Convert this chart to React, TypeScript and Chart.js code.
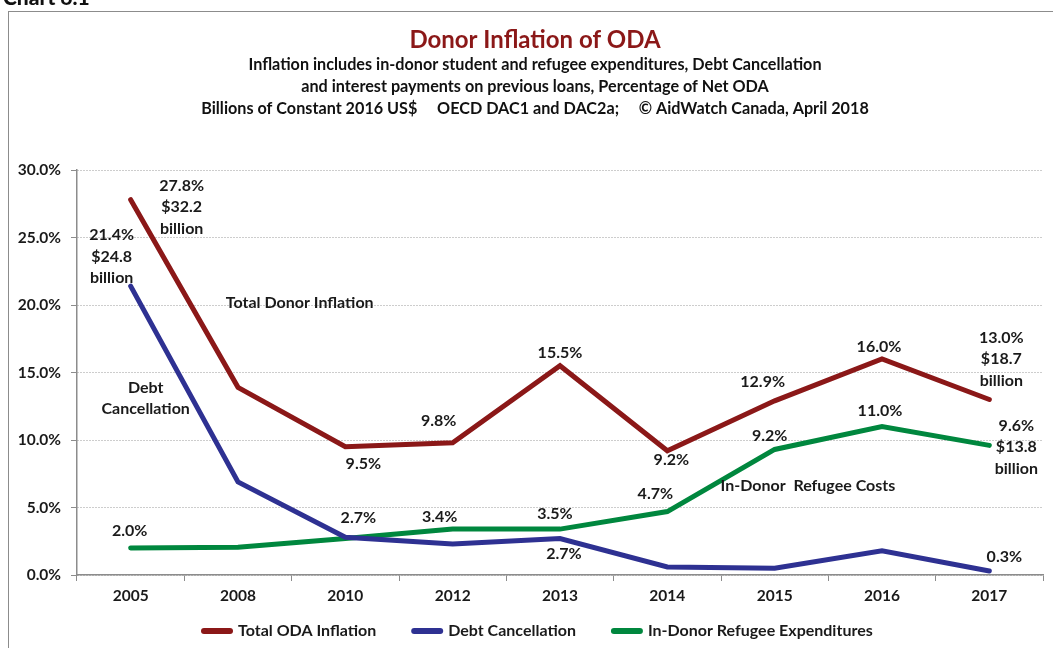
import React, { useEffect, useRef } from "react";
import { Chart, registerables } from "chart.js";

Chart.register(...registerables);

const years = ["2005", "2008", "2010", "2012", "2013", "2014", "2015", "2016", "2017"];
const totalInflation = [27.8, 13.9, 9.5, 9.8, 15.5, 9.2, 12.9, 16.0, 13.0];
const debtCancellation = [21.4, 6.9, 2.8, 2.3, 2.7, 0.6, 0.5, 1.8, 0.3];
const refugeeCosts = [2.0, 2.05, 2.7, 3.4, 3.4, 4.7, 9.3, 11.0, 9.6];

const seriesNames = ["Total ODA Inflation", "Debt Cancellation", "In-Donor Refugee Expenditures"];
const seriesColors = ["#8B1818", "#2E3192", "#00873E"];

const totalLabels = [["27.8%", "$32.2", "billion"], null, ["9.5%"], ["9.8%"], ["15.5%"], ["9.2%"], ["12.9%"], ["16.0%"], ["13.0%", "$18.7", "billion"]];
const debtLabels = [["21.4%", "$24.8", "billion"], null, null, null, ["2.7%"], null, null, null, ["0.3%"]];
const refugeeLabels = [["2.0%"], null, ["2.7%"], ["3.4%"], ["3.5%"], ["4.7%"], ["9.2%"], ["11.0%"], ["9.6%", "$13.8", "billion"]];

// label offsets from the data point (pixels): [dx, dy of first line]
const totalOffsets = [[51, -14], null, [18, 17], [-14, -22], [0, -13], [4, 9], [-12, -19], [-3, -12], [12, -62]];
const debtOffsets = [[-19, -51], null, null, null, [4, 15], null, null, null, [15, -14]];
const refugeeOffsets = [[-1, -17], null, [13, -21], [-13, -12], [-5, -15], [-12, -18], [-5, -14], [-2, -16], [27, -20]];

const titleText = "Donor Inflation of ODA";
const subtitleLines = [
  "Inflation includes in-donor student and refugee expenditures, Debt Cancellation",
  "and interest payments on previous loans, Percentage of Net ODA",
  "Billions of Constant 2016 US$     OECD DAC1 and DAC2a;     \u00A9 AidWatch Canada, April 2018",
];
const annotations = [
  { lines: ["Total Donor Inflation"], x: 1.575, y: 20.15 },
  { lines: ["Debt", "Cancellation"], x: 0.14, y: 13.9 },
  { lines: ["In-Donor  Refugee Costs"], x: 6.31, y: 6.6 },
];

const FONT = "Lato, 'Open Sans', sans-serif";

export default function App() {
  const ref = useRef<HTMLCanvasElement | null>(null);
  useEffect(() => {
    const canvas = ref.current!;
    const labelSets = [totalLabels, debtLabels, refugeeLabels];
    const offsetSets = [totalOffsets, debtOffsets, refugeeOffsets];
    const seriesData = [totalInflation, debtCancellation, refugeeCosts];

    const decor = {
      id: "decor",
      beforeDraw(chart: any) {
        const ctx = chart.ctx;
        ctx.save();
        ctx.fillStyle = "#fff";
        ctx.fillRect(0, 0, chart.width, chart.height);
        ctx.strokeStyle = "#8c8c8c";
        ctx.lineWidth = 1;
        ctx.strokeRect(8.5, 11.5, 3000, 3000);
        ctx.fillStyle = "#111";
        ctx.font = `900 21px ${FONT}`;
        ctx.textAlign = "left";
        ctx.textBaseline = "alphabetic";
        ctx.fillText("Chart 6.1", 3, 5);
        ctx.textAlign = "center";
        ctx.textBaseline = "middle";
        ctx.fillStyle = "#8B1818";
        ctx.font = `bold 24px ${FONT}`;
        ctx.fillText(titleText, 535, 40);
        ctx.fillStyle = "#111";
        ctx.font = `bold 16.2px ${FONT}`;
        subtitleLines.forEach((l, i) => ctx.fillText(l, 535, 65 + i * 22));
        ctx.restore();
      },
      afterDatasetsDraw(chart: any) {
        const ctx = chart.ctx;
        const xs = chart.scales.x;
        const ys = chart.scales.y;
        ctx.save();
        ctx.fillStyle = "#1a1a1a";
        ctx.font = `bold 16px ${FONT}`;
        ctx.textAlign = "center";
        ctx.textBaseline = "middle";
        labelSets.forEach((set, si) => {
          set.forEach((lines, j) => {
            if (!lines) return;
            const off = offsetSets[si][j]!;
            const px = xs.getPixelForValue(j) + off[0];
            const py = ys.getPixelForValue(seriesData[si][j]) + off[1];
            lines.forEach((t, k) => ctx.fillText(t, px, py + k * 21.5));
          });
        });
        annotations.forEach((a) => {
          const x0 = xs.getPixelForValue(0);
          const x1 = xs.getPixelForValue(1);
          const px = x0 + (x1 - x0) * a.x;
          const py = ys.getPixelForValue(a.y);
          a.lines.forEach((t, k) => ctx.fillText(t, px, py + k * 21.5));
        });
        // legend
        ctx.font = `bold 16px ${FONT}`;
        ctx.textAlign = "left";
        let x = 201;
        const y = 631;
        seriesNames.forEach((name, i) => {
          ctx.strokeStyle = seriesColors[i];
          ctx.lineWidth = 6;
          ctx.lineCap = "round";
          ctx.beginPath();
          ctx.moveTo(x + 3, y);
          ctx.lineTo(x + 29, y);
          ctx.stroke();
          ctx.fillStyle = "#1a1a1a";
          ctx.fillText(name, x + 37, y);
          x += 37 + ctx.measureText(name).width + 35;
        });
        ctx.restore();
      },
    };

    const mkDs = (label: string, data: number[], color: string) => ({
      label,
      data,
      borderColor: color,
      backgroundColor: color,
      borderWidth: 5,
      pointRadius: 0,
      tension: 0,
      borderCapStyle: "round",
      borderJoinStyle: "miter",
      fill: false,
    });

    const chart = new Chart(canvas, {
      type: "line",
      data: {
        labels: years,
        datasets: [
          mkDs(seriesNames[0], totalInflation, seriesColors[0]),
          mkDs(seriesNames[1], debtCancellation, seriesColors[1]),
          mkDs(seriesNames[2], refugeeCosts, seriesColors[2]),
        ] as any,
      },
      options: {
        animation: false,
        responsive: false,
        devicePixelRatio: 1,
        layout: { padding: { top: 170, right: 10, bottom: 33, left: 0 } },
        plugins: { legend: { display: false }, tooltip: { enabled: false }, title: { display: false } },
        scales: {
          x: {
            type: "category",
            offset: true,
            grid: { offset: true, drawOnChartArea: false, drawTicks: true, tickLength: 6, tickColor: "#8c8c8c" },
            border: { display: true, color: "#8c8c8c", width: 1.5 },
            ticks: { color: "#1a1a1a", font: { family: FONT, size: 15.5, weight: "bold" }, padding: 6, maxRotation: 0 },
            afterFit: (s: any) => { s.height = 40; },
          },
          y: {
            min: 0,
            max: 30,
            grid: { color: "#9a9a9a", lineWidth: 1, drawTicks: true, tickLength: 6, tickColor: "#8c8c8c", tickBorderDash: [] },
            border: { display: true, color: "#8c8c8c", width: 1.5, dash: [1, 2] },
            ticks: {
              stepSize: 5,
              color: "#1a1a1a",
              padding: 10,
              font: { family: FONT, size: 15.5, weight: "bold" },
              callback: (v: any) => Number(v).toFixed(1) + "%",
            },
            afterFit: (s: any) => { s.width = 77; },
          },
        },
      } as any,
      plugins: [decor],
    });
    return () => chart.destroy();
  }, []);

  return (
    <div style={{ position: "fixed", left: 0, top: 0, width: 1053, height: 648 }}>
      <canvas ref={ref} width={1053} height={648} style={{ width: 1053, height: 648, display: "block" }} />
    </div>
  );
}
